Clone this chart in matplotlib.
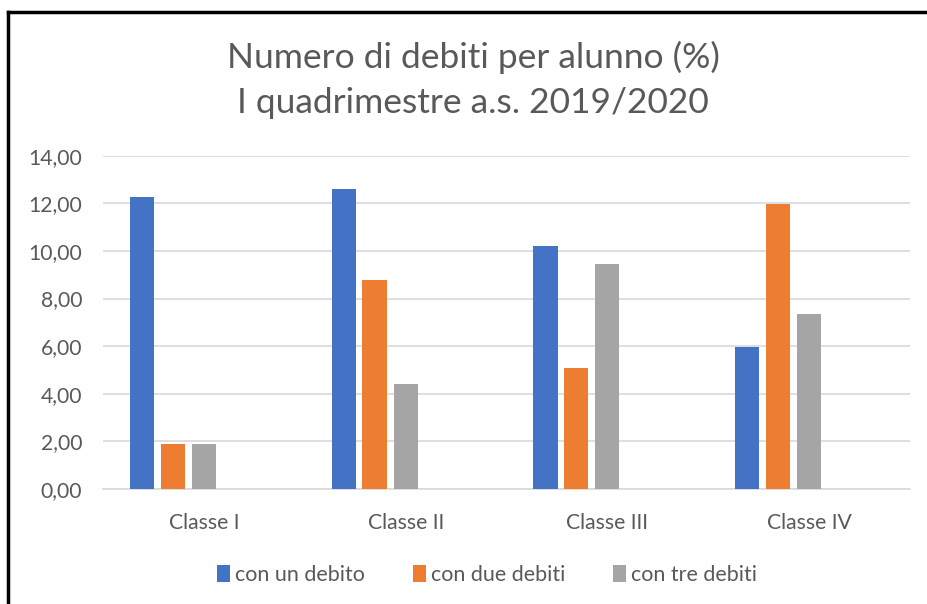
import matplotlib
matplotlib.use("Agg")
import matplotlib.pyplot as plt
from matplotlib.patches import Patch
from matplotlib.lines import Line2D
import numpy as np

categories = ["Classe I", "Classe II", "Classe III", "Classe IV"]
series_names = ["con un debito", "con due debiti", "con tre debiti"]
con_un_debito = [12.28, 12.62, 10.20, 5.98]
con_due_debiti = [1.89, 8.77, 5.08, 11.99]
con_tre_debiti = [1.89, 4.40, 9.47, 7.34]
yticks = [0, 2, 4, 6, 8, 10, 12, 14]
title_lines = ["Numero di debiti per alunno (%)", "I quadrimestre a.s. 2019/2020"]

colors = ["#4472C4", "#ED7D31", "#A5A5A5"]
text_color = "#595959"
plt.rcParams["font.family"] = ["Lato", "DejaVu Sans"]

fig = plt.figure(figsize=(9.28, 6.04), dpi=100)
ax = fig.add_axes([103/928, 1-489/604, 807/928, (489-155.7)/604])

x = np.arange(len(categories))
offsets = [-0.307, -0.154, 0.0]
width = 0.12
for vals, off, c, name in zip([con_un_debito, con_due_debiti, con_tre_debiti], offsets, colors, series_names):
    ax.bar(x + off, vals, width=width, color=c, label=name, zorder=3)

ax.set_xlim(-0.5, len(categories) - 0.5)
ax.set_ylim(0, 14)
ax.set_yticks(yticks)
ax.set_yticklabels([f"{v:.2f}".replace(".", ",") for v in yticks])
ax.set_xticks(x)
ax.set_xticklabels(categories)
ax.grid(axis="y", color="#D9D9D9", linewidth=1.2, zorder=0)
for s in ["top", "right", "left"]:
    ax.spines[s].set_visible(False)
ax.spines["bottom"].set_color("#D9D9D9")
ax.spines["bottom"].set_linewidth(1.2)
ax.tick_params(axis="both", length=0, colors=text_color, labelsize=15.2)
ax.tick_params(axis="y", pad=15)
ax.tick_params(axis="x", pad=17)

fig.text(473/928, 1-57/604, title_lines[0], ha="center", va="center", fontsize=25.5, color=text_color)
fig.text(473/928, 1-103/604, title_lines[1], ha="center", va="center", fontsize=25.5, color=text_color)

handles = [Patch(facecolor=c, edgecolor="none") for c in colors]
fig.legend(handles, series_names, loc="center", bbox_to_anchor=(487/928, 1-575/604), ncol=3,
           frameon=False, fontsize=15.5, labelcolor=text_color, handlelength=0.6, handleheight=0.8,
           handletextpad=0.25, columnspacing=2.2)

# chart border (top and left visible)
fig.add_artist(Line2D([8/928, 8/928], [0, 1-12/604], color="black", linewidth=2.5, transform=fig.transFigure))
fig.add_artist(Line2D([8/928, 1], [1-12/604, 1-12/604], color="black", linewidth=2.5, transform=fig.transFigure))

fig.savefig("out.png", dpi=100)
